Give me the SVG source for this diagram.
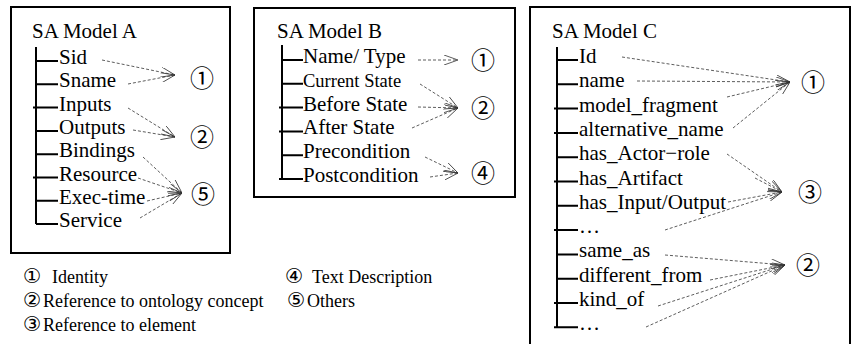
<svg xmlns="http://www.w3.org/2000/svg" width="853" height="344" viewBox="0 0 853 344">
<style>
.box{fill:#fff;stroke:#000;stroke-width:2}
.tree{stroke:#000;stroke-width:2;fill:none}
.t{font-family:"Liberation Serif","Times New Roman",serif;font-size:21px;fill:#000}
.ts{font-family:"Liberation Serif","Times New Roman",serif;font-size:18.5px;fill:#000}
.c{font-family:"Noto Sans CJK SC","DejaVu Sans",sans-serif;font-size:24px;fill:#000;text-anchor:middle}
.lg{font-family:"Liberation Serif","Times New Roman",serif;font-size:18px;fill:#000}
.lc{font-family:"DejaVu Sans","Noto Sans CJK SC",sans-serif;font-size:20.5px}
.d{stroke:#333;stroke-width:0.8;stroke-dasharray:3 2;fill:none;marker-end:url(#ah)}
</style>
<defs>
<marker id="ah" viewBox="0 0 14 10" refX="14" refY="5" markerWidth="14" markerHeight="10" orient="auto" markerUnits="userSpaceOnUse">
<path d="M0,0 L14,5 L0,10" fill="none" stroke="#333" stroke-width="0.8"/>
</marker>
</defs>
<rect width="853" height="344" fill="#fff"/>

<g id="modelA">
<rect class="box" x="11" y="7" width="219" height="246"/>
<text class="t" x="32" y="38">SA Model A</text>
<path class="tree" d="M36,47 V224 M36,61 H58 M36,84.3 H58 M33,107.6 H58 M36,130.9 H58 M36,154.2 H58 M33,177.5 H58 M36,200.8 H58 M36,224 H58"/>
<text class="t" x="59" y="64">Sid</text>
<text class="t" x="59" y="87.3">Sname</text>
<text class="t" x="59" y="110.6">Inputs</text>
<text class="t" x="59" y="133.9">Outputs</text>
<text class="t" x="59" y="157.2">Bindings</text>
<text class="t" x="59" y="180.5">Resource</text>
<text class="t" x="59" y="203.8">Exec-time</text>
<text class="t" x="59" y="227.1">Service</text>
<text class="c" x="202" y="87">①</text>
<text class="c" x="202" y="146">②</text>
<text class="c" x="203" y="203">⑤</text>
</g>

<g id="modelB">
<rect class="box" x="254" y="8" width="261" height="189"/>
<text class="t" x="277" y="38">SA Model B</text>
<path class="tree" d="M282,45 V179 M282,60 H303 M282,83.8 H303 M279,107.6 H303 M279,131.4 H303 M282,155.2 H303 M279,179 H303"/>
<text class="t" x="303" y="63">Name/ Type</text>
<text class="ts" x="303" y="86.8">Current State</text>
<text class="t" x="303" y="110.6">Before State</text>
<text class="t" x="303" y="134.4">After State</text>
<text class="t" x="303" y="158.2">Precondition</text>
<text class="t" x="303" y="182">Postcondition</text>
<text class="c" x="483" y="69">①</text>
<text class="c" x="483" y="117">②</text>
<text class="c" x="483" y="182">④</text>
</g>

<g id="modelC">
<rect class="box" x="530" y="7" width="320" height="345"/>
<text class="t" x="552" y="38">SA Model C</text>
<path class="tree" d="M557,47 V327 M557,60 H578 M557,84.3 H578 M554,108.6 H578 M554,132.9 H578 M557,157.2 H578 M554,181.5 H578 M557,205.8 H578 M554,230.1 H578 M557,254.4 H578 M557,278.7 H578 M554,303 H578 M554,327.3 H578"/>
<text class="t" x="579" y="63">Id</text>
<text class="t" x="579" y="87.3">name</text>
<text class="t" x="579" y="111.6">model_fragment</text>
<text class="t" x="579" y="135.9">alternative_name</text>
<text class="t" x="579" y="160.2">has_Actor−role</text>
<text class="t" x="579" y="184.5">has_Artifact</text>
<text class="t" x="579" y="208.8">has_Input/Output</text>
<text class="t" x="579" y="233.1">…</text>
<text class="t" x="579" y="257.4">same_as</text>
<text class="t" x="579" y="281.7">different_from</text>
<text class="t" x="579" y="306">kind_of</text>
<text class="t" x="579" y="330.3">…</text>
<text class="c" x="813" y="91">①</text>
<text class="c" x="810" y="201">③</text>
<text class="c" x="808" y="274">②</text>
</g>

<g id="connectors">
<path class="d" d="M102,60 L175,75"/>
<path class="d" d="M128,84 L175,75"/>
<path class="d" d="M128,108 L175,137"/>
<path class="d" d="M133,130 L175,137"/>
<path class="d" d="M143,157 L182,193"/>
<path class="d" d="M138,178 L182,193"/>
<path class="d" d="M147,201 L182,193"/>
<path class="d" d="M140,218 L182,193"/>

<path class="d" d="M418,60 L458,60"/>
<path class="d" d="M420,84 L458,108"/>
<path class="d" d="M418,107 L458,108"/>
<path class="d" d="M412,128 L458,108"/>
<path class="d" d="M425,157 L458,173"/>
<path class="d" d="M430,177 L458,173"/>

<path class="d" d="M622,57 L790,82"/>
<path class="d" d="M637,81 L790,82"/>
<path class="d" d="M727,97 L790,82"/>
<path class="d" d="M733,128 L790,82"/>
<path class="d" d="M727,154 L782,192"/>
<path class="d" d="M755,178 L782,192"/>
<path class="d" d="M728,202 L782,192"/>
<path class="d" d="M665,230 L782,192"/>
<path class="d" d="M665,255 L785,265"/>
<path class="d" d="M710,280 L785,265"/>
<path class="d" d="M658,306 L785,265"/>
<path class="d" d="M646,327 L785,265"/>
</g>

<g id="legend">
<text class="lg" x="23" y="283"><tspan class="lc">①</tspan><tspan x="52">Identity</tspan></text>
<text class="lg" x="23" y="307"><tspan class="lc">②</tspan><tspan x="43">Reference to ontology concept</tspan></text>
<text class="lg" x="23" y="331"><tspan class="lc">③</tspan><tspan x="43">Reference to element</tspan></text>
<text class="lg" x="285" y="283"><tspan class="lc">④</tspan><tspan x="312">Text Description</tspan></text>
<text class="lg" x="287" y="307"><tspan class="lc">⑤</tspan><tspan x="307">Others</tspan></text>
</g>
</svg>
